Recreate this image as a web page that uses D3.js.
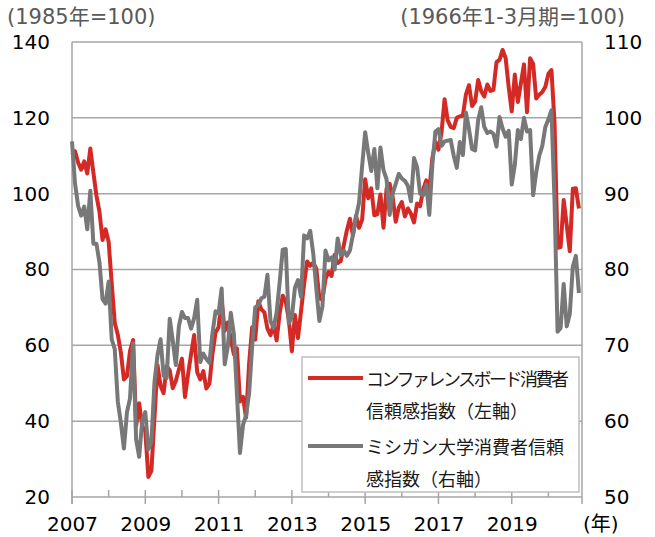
<!DOCTYPE html>
<html>
<head>
<meta charset="utf-8">
<script src="https://cdn.jsdelivr.net/npm/d3@7"></script>
<style>
    body { margin: 0; background: #fff; }
    svg { font-family: "DejaVu Sans", "Noto Sans CJK JP", sans-serif; }
    .jp { font-family: "Noto Sans CJK JP", sans-serif; }
</style>
</head>
<body>
<svg id="chart-svg" width="655" height="537"></svg>
<script>
// monthly, Jan 2007 - Nov 2020
const years = [2007, 2009, 2011, 2013, 2015, 2017, 2019];
const leftTicks = [20, 40, 60, 80, 100, 120, 140];
const rightTicks = [50, 60, 70, 80, 90, 100, 110];

// Conference Board consumer confidence (left axis)
const confBoard = [
    110.2, 111.2, 108.2, 106.3, 108.5, 105.3, 111.9, 105.6, 99.5, 95.2, 87.8, 90.6,
    87.3, 76.4, 65.9, 62.8, 58.1, 51.0, 51.9, 58.5, 61.4, 38.8, 44.7, 38.6,
    37.4, 25.3, 26.9, 40.8, 54.8, 49.3, 47.4, 54.5, 53.4, 48.7, 50.6, 53.6,
    56.5, 46.4, 52.3, 57.7, 62.7, 52.9, 51.0, 53.2, 48.6, 49.9, 57.8, 63.4,
    64.8, 72.0, 63.8, 66.0, 61.7, 57.6, 59.2, 45.2, 46.4, 40.9, 55.2, 64.8,
    61.5, 71.6, 69.5, 68.7, 64.4, 62.7, 65.4, 61.3, 68.4, 73.1, 71.5, 66.7,
    58.4, 68.0, 61.9, 69.0, 76.2, 82.1, 81.0, 81.8, 80.2, 72.4, 72.0, 77.5,
    79.4, 78.3, 83.9, 81.7, 82.2, 86.4, 90.3, 93.4, 89.0, 94.1, 91.0, 93.1,
    103.8, 98.8, 101.4, 94.3, 94.6, 99.8, 91.0, 101.3, 102.6, 99.1, 92.6, 96.3,
    97.8, 94.0, 96.1, 94.7, 92.4, 97.4, 96.7, 101.1, 103.5, 100.8, 109.4, 113.7,
    111.6, 116.1, 124.9, 119.4, 117.6, 117.3, 120.0, 120.4, 120.6, 126.2, 128.6, 123.1,
    124.3, 130.0, 127.0, 125.6, 128.8, 127.1, 127.4, 134.7, 135.3, 137.9, 135.7, 128.1,
    121.7, 131.4, 124.2, 129.2, 134.1, 121.5, 135.7, 134.2, 125.1, 126.1, 126.8, 128.2,
    131.6, 132.6, 118.8, 85.7, 85.9, 98.3, 91.7, 84.8, 101.3, 101.4, 96.1
];

// Univ. of Michigan consumer sentiment (right axis)
const michigan = [
    96.9, 91.3, 88.4, 87.1, 88.3, 85.3, 90.4, 83.4, 83.4, 80.9, 76.1, 75.5,
    78.4, 70.8, 69.5, 62.6, 59.8, 56.4, 61.2, 63.0, 70.3, 57.6, 55.3, 60.1,
    61.2, 56.3, 57.3, 65.1, 68.7, 70.8, 66.0, 65.7, 73.5, 70.6, 67.4, 72.5,
    74.4, 73.6, 73.6, 72.2, 73.6, 76.0, 67.8, 68.9, 68.2, 67.7, 71.6, 74.5,
    74.2, 77.5, 67.5, 69.8, 74.3, 71.5, 63.7, 55.8, 59.5, 60.8, 63.7, 69.9,
    75.0, 75.3, 76.2, 76.4, 79.3, 73.2, 72.3, 74.3, 78.3, 82.6, 82.7, 72.9,
    73.8, 77.6, 78.6, 76.4, 84.5, 84.1, 85.1, 82.1, 77.5, 73.2, 75.1, 82.5,
    81.2, 81.6, 80.0, 84.1, 81.9, 82.5, 81.8, 82.5, 84.6, 86.9, 88.8, 93.6,
    98.1, 95.4, 93.0, 95.9, 90.7, 96.1, 93.1, 91.9, 87.2, 90.0, 91.3, 92.6,
    92.0, 91.7, 91.0, 89.0, 94.7, 93.5, 90.0, 89.8, 91.2, 87.2, 93.8, 98.2,
    98.5, 96.3, 96.9, 97.0, 97.1, 95.0, 93.4, 96.8, 95.1, 100.7, 98.5, 95.9,
    95.7, 99.7, 101.4, 98.8, 98.0, 98.2, 97.9, 96.2, 100.1, 98.6, 97.5, 98.3,
    91.2, 93.8, 98.4, 97.2, 100.0, 98.2, 98.4, 89.8, 92.8, 95.0, 96.3, 98.8,
    99.8, 101.0, 89.1, 71.8, 72.3, 78.1, 72.5, 74.1, 80.4, 81.8, 76.9
];

const legendLines = [
    ["コンファレンスボード消費者", "信頼感指数（左軸）"],
    ["ミシガン大学消費者信頼", "感指数（右軸）"]
];

var svg = d3.select("#chart-svg"),
    plotL = 72, plotR = 582, plotT = 42, plotB = 497;

var gridColor = "#a6a6a6";

// month index scale, 167 months across the plot
var x = d3.scaleLinear().domain([0, 167]).range([plotL, plotR]);
var yL = d3.scaleLinear().domain([20, 140]).range([plotB, plotT]);
var yR = d3.scaleLinear().domain([50, 110]).range([plotB, plotT]);

svg.append("rect").attr("width", 655).attr("height", 537).attr("fill", "#fff");

// gridlines
svg.append("g").selectAll("line")
    .data(leftTicks)
    .enter().append("line")
    .attr("x1", plotL).attr("x2", plotR)
    .attr("y1", d => yL(d)).attr("y2", d => yL(d))
    .attr("stroke", gridColor).attr("stroke-width", 1.5);

// plot box sides
svg.append("line").attr("x1", plotL).attr("x2", plotL).attr("y1", plotT).attr("y2", plotB + 7)
    .attr("stroke", gridColor).attr("stroke-width", 1.5);
svg.append("line").attr("x1", plotR).attr("x2", plotR).attr("y1", plotT).attr("y2", plotB + 7)
    .attr("stroke", gridColor).attr("stroke-width", 1.5);

// x ticks: every year inside, labelled ones cross the axis
var yearIdx = d3.range(0, 168, 12);
svg.append("g").selectAll("line")
    .data(yearIdx)
    .enter().append("line")
    .attr("x1", d => x(d)).attr("x2", d => x(d))
    .attr("y1", plotB - 7)
    .attr("y2", d => d % 24 === 0 ? plotB + 7 : plotB)
    .attr("stroke", gridColor).attr("stroke-width", 1.5);

// axes
var axisL = svg.append("g")
    .attr("transform", "translate(" + plotL + ",0)")
    .call(d3.axisLeft(yL).tickValues(leftTicks).tickSize(0).tickPadding(22));
var axisR = svg.append("g")
    .attr("transform", "translate(" + plotR + ",0)")
    .call(d3.axisRight(yR).tickValues(rightTicks).tickSize(0).tickPadding(22));
var axisB = svg.append("g")
    .attr("transform", "translate(0," + plotB + ")")
    .call(d3.axisBottom(x).tickValues(years.map(yr => (yr - 2007) * 12)).tickSize(0).tickPadding(20)
        .tickFormat((d, i) => years[i]));

[axisL, axisR, axisB].forEach(a => {
    a.select(".domain").remove();
    a.selectAll("text").style("font-size", "20px").attr("fill", "#000")
        .attr("font-family", "DejaVu Sans");
});

svg.append("text").attr("x", 583).attr("y", 531)
    .style("font-size", "20px").text("(年)");

// unit captions
svg.append("text").attr("x", 7).attr("y", 24)
    .style("font-size", "21px").attr("fill", "#595959").text("(1985年=100)");
svg.append("text").attr("x", 625).attr("y", 24).attr("text-anchor", "end")
    .style("font-size", "21px").attr("fill", "#595959").text("(1966年1-3月期=100)");

// lines
var lineL = d3.line().x((d, i) => x(i)).y(d => yL(d));
var lineR = d3.line().x((d, i) => x(i)).y(d => yR(d));

svg.append("path").datum(confBoard)
    .attr("d", lineL)
    .attr("fill", "none").attr("stroke", "#d42a26").attr("stroke-width", 4)
    .attr("stroke-linejoin", "round");

svg.append("path").datum(michigan)
    .attr("d", lineR)
    .attr("fill", "none").attr("stroke", "#787878").attr("stroke-width", 4)
    .attr("stroke-linejoin", "round");

// legend
var lg = svg.append("g");
lg.append("rect").attr("x", 302).attr("y", 357).attr("width", 277).attr("height", 135)
    .attr("fill", "#fff").attr("stroke", "#bfbfbf").attr("stroke-width", 1.5);

var lgColors = ["#d42a26", "#787878"];
var lgY = [378, 446];
legendLines.forEach((lines, k) => {
    lg.append("line").attr("x1", 308).attr("x2", 363).attr("y1", lgY[k]).attr("y2", lgY[k])
        .attr("stroke", lgColors[k]).attr("stroke-width", 4);
    lines.forEach((t, j) => {
        var txt = lg.append("text").attr("class", "jp")
            .attr("x", 366).attr("y", lgY[k] + 8 + j * 32)
            .style("font-size", "18px").attr("fill", "#1a1a1a").text(t);
        if (k === 0 && j === 0) txt.attr("textLength", 203).attr("lengthAdjust", "spacing");
    });
});
</script>
</body>
</html>
